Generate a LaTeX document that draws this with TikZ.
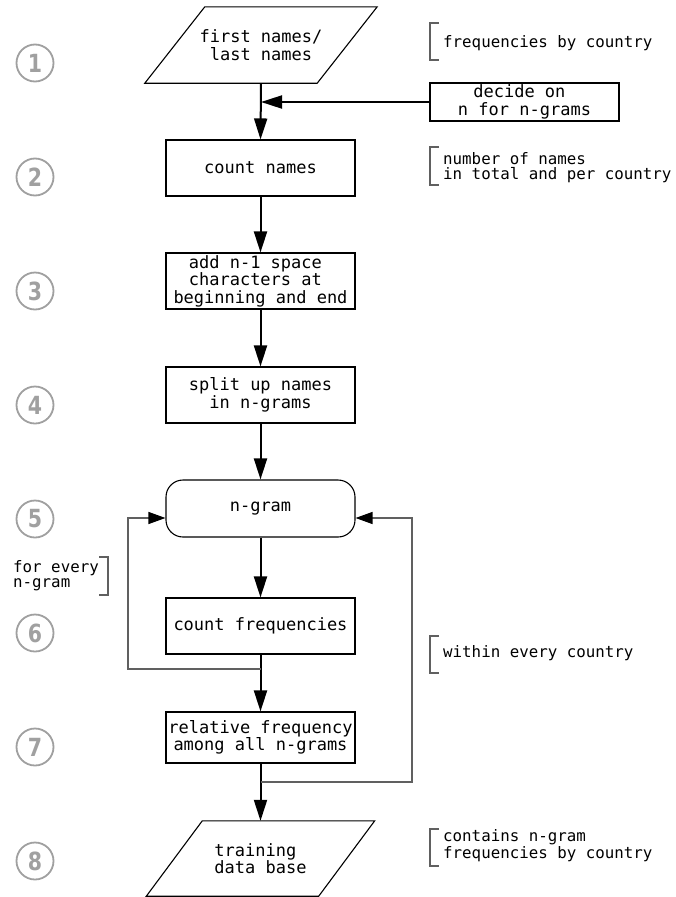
\documentclass[tikz,border=0pt]{standalone}
\usepackage{fontspec}
\setmonofont{DejaVu Sans Mono}
\newfontfamily\numfont[FakeStretch=0.82]{DejaVu Sans}
\usetikzlibrary{arrows.meta}
\definecolor{circgray}{HTML}{A0A0A0}
\definecolor{loopgray}{HTML}{606060}
\newcommand\boxfont{\ttfamily\fontsize{17}{17.5}\selectfont}
\newcommand\annfont{\ttfamily\fontsize{15.8}{15}\selectfont}
\begin{document}
\begin{tikzpicture}[x=1pt,y=-1pt,
  stepbox/.style={draw=black, line width=1.1pt, minimum width=189pt, minimum height=56pt, inner sep=0pt, align=center, font=\boxfont},
  parabox/.style={minimum width=172pt, minimum height=76pt, inner sep=0pt, font=\boxfont},
  paraline/.style={draw=black, line width=1.1pt},
  mainarrow/.style={draw=black, line width=2pt, -{Triangle[length=21pt,width=13pt]}},
  looparrow/.style={draw=loopgray, line width=1.2pt, -{Triangle[length=17pt,width=12pt,color=black]}},
  ann/.style={anchor=west, inner sep=0pt, align=left, font=\annfont},
  brk/.style={draw=loopgray, line width=1.2pt},
  circ/.style={circle, draw=circgray, line width=1.8pt, minimum size=37pt, inner sep=0pt, text=circgray, font=\numfont\bfseries\fontsize{25}{25}\selectfont}
]
\useasboundingbox (0,0) rectangle (676,897);

% numbered circles
\foreach \k in {1,...,8} {
  \node[circ] (c\k) at (35,{63+114*(\k-1)}) {\k};
}

% nodes
\node[parabox, align=center] (p1) at (261,45) {first names/\\last names};
\draw[paraline] ([xshift=-30pt]p1.south west) -- ([xshift=-30pt]p1.south east)
  -- ([xshift=30pt]p1.north east) -- ([xshift=30pt]p1.north west) -- cycle;

\node[stepbox, minimum height=38pt] (dec) at (524.5,102) {decide on\hphantom{x}\\n for n-grams};
\node[stepbox] (b2) at (260.5,168) {count names};
\node[stepbox] (b3) at (260.5,281) {add n-1 space\hphantom{x}\\characters at\hphantom{x}\\beginning and end};
\node[stepbox] (b4) at (260.5,395) {split up names\\in n-grams};
\node[stepbox, minimum height=57pt, rounded corners=17pt] (b5) at (260.5,508.5) {n-gram};
\node[stepbox] (b6) at (260.5,626) {count frequencies};
\node[stepbox, minimum height=51pt] (b7) at (260.5,737.5) {relative frequency\\among all n-grams};

\node[parabox, minimum height=75pt, align=left] (p2) at (260.5,858.5) {training\\data base};
\draw[paraline] ([xshift=-28pt]p2.south west) -- ([xshift=-28pt]p2.south east)
  -- ([xshift=28pt]p2.north east) -- ([xshift=28pt]p2.north west) -- cycle;

% main connectors
\draw[mainarrow] (p1.south) -- (b2.north);
\draw[mainarrow] (dec.west) -- (p1.south |- dec.west);
\draw[mainarrow] (b2.south) -- (b3.north);
\draw[mainarrow] (b3.south) -- (b4.north);
\draw[mainarrow] (b4.south) -- (b5.north);
\draw[mainarrow] (b5.south) -- (b6.north);
\draw[mainarrow] (b6.south) -- (b7.north);
\draw[mainarrow] (b7.south) -- (p2.north);

% loops
\coordinate (lj) at (260.5,669);
\coordinate (lb) at (128,669);
\coordinate (lt) at (128,518);
\draw[looparrow] (lj) -- (lb) -- (lt) -- ([yshift=-9.5pt]b5.west);
\coordinate (rj) at (260.5,782);
\coordinate (rb) at (412,782);
\coordinate (rt) at (412,518);
\draw[looparrow] (rj) -- (rb) -- (rt) -- ([yshift=-9.5pt]b5.east);

% annotations
\node[ann] (a1) at (443,43) {frequencies by country};
\draw[brk] (439,23) -- (430,23) -- (430,60) -- (439,60);
\node[ann] (a2) at (443,167.5) {number of names\\in total and per country};
\draw[brk] (439,147) -- (430,147) -- (430,185) -- (439,185);
\node[ann] (a3) at (443,653) {within every country};
\draw[brk] (439,636) -- (430,636) -- (430,673) -- (439,673);
\node[ann] (a4) at (443,845.5) {contains n-gram\\frequencies by country};
\draw[brk] (439,829) -- (430,829) -- (430,866) -- (439,866);
\node[ann] (a5) at (13,575.5) {for every\\n-gram};
\draw[brk] (99,557) -- (108,557) -- (108,595) -- (99,595);
\end{tikzpicture}
\end{document}
